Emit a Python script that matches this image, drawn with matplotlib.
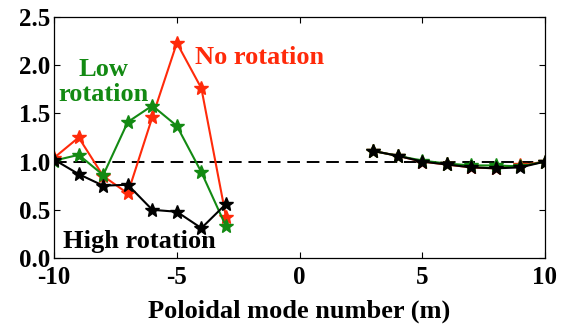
import matplotlib
matplotlib.use("Agg")
import matplotlib.pyplot as plt

# poloidal mode numbers
m_left = [-10, -9, -8, -7, -6, -5, -4, -3]
m_right = [3, 4, 5, 6, 7, 8, 9, 10]

# normalised amplitude, negative m side
no_rot_left = [1.04, 1.25, 0.85, 0.67, 1.46, 2.23, 1.76, 0.43]
low_rot_left = [1.01, 1.07, 0.86, 1.41, 1.58, 1.37, 0.89, 0.33]
high_rot_left = [1.02, 0.87, 0.75, 0.76, 0.50, 0.48, 0.31, 0.56]

# positive m side
no_rot_right = [1.11, 1.06, 1.00, 0.97, 0.94, 0.93, 0.96, 1.00]
low_rot_right = [1.11, 1.06, 1.01, 0.98, 0.96, 0.96, 0.95, 1.00]
high_rot_right = [1.11, 1.06, 1.00, 0.97, 0.94, 0.93, 0.94, 1.00]

RED = "#ff2a0a"
GREEN = "#138a13"

plt.rcParams["font.family"] = ["Liberation Serif", "DejaVu Serif"]
plt.rcParams["font.weight"] = "bold"
plt.rcParams["axes.unicode_minus"] = False

fig = plt.figure(figsize=(5.7, 3.25), dpi=100)
ax = fig.add_axes([0.095, 0.206, 0.861, 0.742])

ax.plot([-10, 10], [1.0, 1.0], "--", color="black", lw=1.4, dashes=(6.5, 3.5))

style = dict(marker="*", markersize=10, lw=1.5)
ax.plot(m_left, no_rot_left, color=RED, **style)
ax.plot(m_left, low_rot_left, color=GREEN, **style)
ax.plot(m_left, high_rot_left, color="black", **style)
ax.plot(m_right, no_rot_right, color=RED, **style)
ax.plot(m_right, low_rot_right, color=GREEN, **style)
ax.plot(m_right, high_rot_right, color="black", **style)

ax.set_xlim(-10, 10)
ax.set_ylim(0, 2.5)
ax.set_xticks([-10, -5, 0, 5, 10])
ax.set_yticks([0.0, 0.5, 1.0, 1.5, 2.0, 2.5])
ax.set_yticklabels(["0.0", "0.5", "1.0", "1.5", "2.0", "2.5"])
ax.tick_params(direction="in", top=True, right=True, labelsize=18, length=4,
               width=0.8)
ax.tick_params(axis="x", pad=6)
ax.tick_params(axis="y", pad=3)
for lab in ax.get_xticklabels() + ax.get_yticklabels():
    lab.set_fontweight("bold")
for sp in ax.spines.values():
    sp.set_linewidth(0.9)

ax.set_xlabel("Poloidal mode number (m)", fontsize=19, fontweight="bold", labelpad=7)

ax.text(-4.26, 2.01, "No rotation", color=RED, fontsize=19, fontweight="bold",
        ha="left", va="baseline")
ax.text(-8.0, 1.63, "Low\nrotation", color=GREEN, fontsize=19, fontweight="bold",
        ha="center", va="baseline", linespacing=1.1)
ax.text(-9.64, 0.105, "High rotation", color="black", fontsize=19, fontweight="bold",
        ha="left", va="baseline")

fig.savefig("out.png", dpi=100)
